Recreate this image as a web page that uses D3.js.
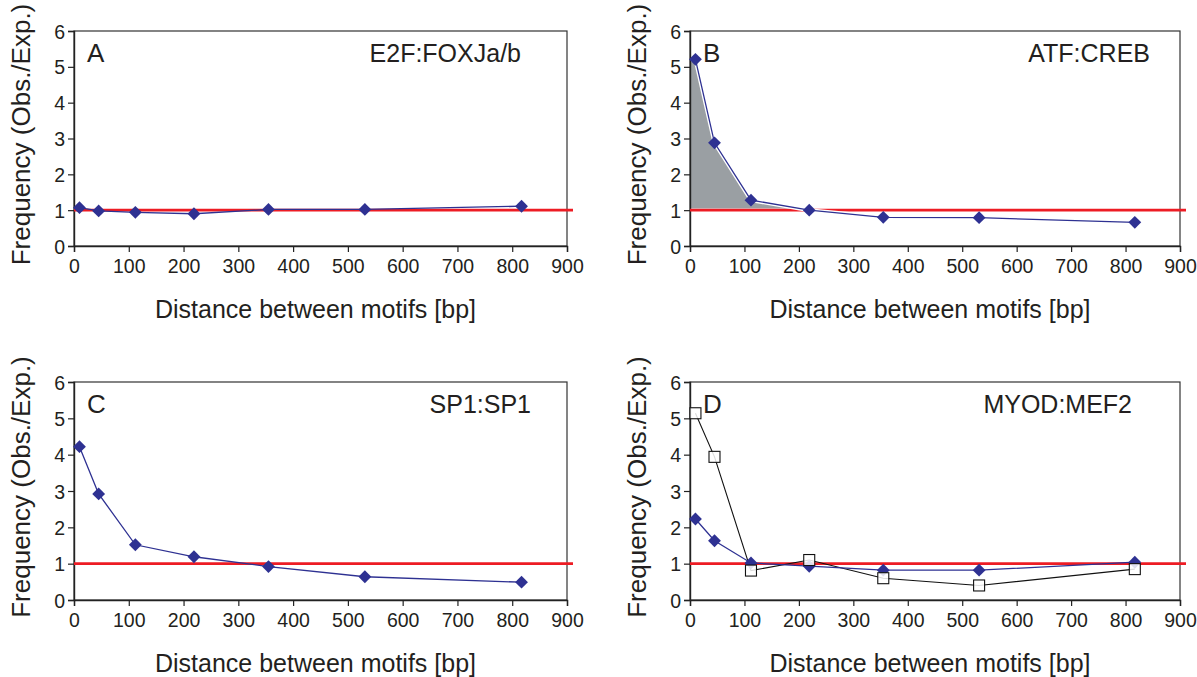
<!DOCTYPE html>
<html>
<head>
<meta charset="utf-8">
<script src="https://cdn.jsdelivr.net/npm/d3@7"></script>
<style>
  html, body { margin: 0; padding: 0; background: #fff; }
  svg { display: block; }
  text { font-family: "Liberation Sans", Arial, Helvetica, sans-serif; fill: #231f20; }
</style>
</head>
<body>
<svg id="chart" width="1197" height="677"></svg>
<script>
// values
const panelLetters = ['A', 'B', 'C', 'D'];
const pairNames = ['E2F:FOXJa/b', 'ATF:CREB', 'SP1:SP1', 'MYOD:MEF2'];
const distances = [10, 45, 112, 219, 355, 531, 817];
const freqA = [1.07, 0.98, 0.94, 0.90, 1.02, 1.02, 1.11];
const freqB = [5.21, 2.88, 1.28, 1.00, 0.80, 0.79, 0.66];
const freqC = [4.22, 2.92, 1.52, 1.19, 0.92, 0.64, 0.49];
const freqD = [2.23, 1.63, 1.02, 0.93, 0.82, 0.82, 1.04];
const freqDOpen = [5.14, 3.94, 0.81, 1.10, 0.60, 0.40, 0.85];
// grey shaded excess in panel B
const shadeDist = [0, 10, 45, 112, 219];
const shadeFreq = [5.12, 5.21, 2.88, 1.28, 1.00];
const shadeBase = 1.05;
const expected = 1;
const xDomain = [0, 900];
const yDomain = [0, 6];

const series = [freqA, freqB, freqC, freqD];

// panel boxes in pixels
const boxes = [
  { x0: 74, x1: 567, y0: 31, y1: 246, nameX: 521 },
  { x0: 690, x1: 1180, y0: 31, y1: 246, nameX: 1150 },
  { x0: 74, x1: 567, y0: 382, y1: 600, nameX: 531 },
  { x0: 690, x1: 1180, y0: 382, y1: 600, nameX: 1132 }
];

const navy = '#2e3192';
const red = '#ed1c24';
const svg = d3.select('#chart');

const diamond = d3.symbol().type(d3.symbolDiamond2).size(105);

boxes.forEach((b, i) => {
  const x = d3.scaleLinear().domain(xDomain).range([b.x0, b.x1]);
  const y = d3.scaleLinear().domain(yDomain).range([b.y1, b.y0]);
  const g = svg.append('g');

  // shading (panel B only)
  if (i === 1) {
    const area = d3.area()
      .x((d, k) => x(shadeDist[k]))
      .y0(y(shadeBase))
      .y1(d => y(d));
    g.append('path')
      .datum(shadeFreq)
      .attr('d', area)
      .attr('fill', '#9a9fa3');
  }

  // frame
  g.append('rect')
    .attr('x', b.x0).attr('y', b.y0)
    .attr('width', b.x1 - b.x0).attr('height', b.y1 - b.y0)
    .attr('fill', 'none').attr('stroke', '#333').attr('stroke-width', 1.2);

  // axes
  const xAxis = d3.axisBottom(x).tickValues(d3.range(0, 901, 100)).tickSize(6).tickPadding(7);
  const yAxis = d3.axisLeft(y).ticks(6).tickSize(6).tickPadding(3);

  const gx = g.append('g').attr('transform', `translate(0,${b.y1})`).call(xAxis);
  const gy = g.append('g').attr('transform', `translate(${b.x0},0)`).call(yAxis);
  [gx, gy].forEach(a => {
    a.select('.domain').attr('stroke', '#222').attr('stroke-width', 1.4);
    a.selectAll('.tick line').attr('stroke', '#222').attr('stroke-width', 1.2);
    a.selectAll('.tick text')
      .attr('font-size', 19.5)
      .attr('font-family', '"Liberation Sans", Arial, sans-serif')
      .attr('fill', '#231f20');
  });
  gy.selectAll('.tick text').attr('dy', '0.36em');

  // axis titles
  g.append('text')
    .attr('x', (b.x0 + b.x1) / 2 - 5)
    .attr('y', b.y1 + 72)
    .attr('text-anchor', 'middle')
    .attr('font-size', 25)
    .text('Distance between motifs [bp]');

  g.append('text')
    .attr('transform', `translate(${b.x0 - 44},${(b.y0 + b.y1) / 2 - 4}) rotate(-90)`)
    .attr('text-anchor', 'middle')
    .attr('font-size', 26)
    .text('Frequency (Obs./Exp.)');

  // panel letter and name
  g.append('text')
    .attr('x', b.x0 + 13)
    .attr('y', b.y0 + 31)
    .attr('font-size', 26)
    .text(panelLetters[i]);
  g.append('text')
    .attr('x', b.nameX)
    .attr('y', b.y0 + 31)
    .attr('text-anchor', 'end')
    .attr('font-size', 25)
    .text(pairNames[i]);

  // expected level
  g.append('line')
    .attr('x1', x(0)).attr('x2', b.x1 + 6)
    .attr('y1', y(expected)).attr('y2', y(expected))
    .attr('stroke', red).attr('stroke-width', 2.6);

  const line = d3.line().x((d, k) => x(distances[k])).y(d => y(d));

  // open squares series in panel D
  if (i === 3) {
    g.append('path')
      .datum(freqDOpen)
      .attr('d', line)
      .attr('fill', 'none').attr('stroke', '#111').attr('stroke-width', 1.1);
  }

  if (i === 1) {
    g.append('path')
      .datum(series[i])
      .attr('d', line)
      .attr('fill', 'none').attr('stroke', '#fff').attr('stroke-width', 4);
  }
  g.append('path')
    .datum(series[i])
    .attr('d', line)
    .attr('fill', 'none').attr('stroke', navy).attr('stroke-width', 1.3);

  g.selectAll('.dia')
    .data(series[i])
    .join('path')
    .attr('class', 'dia')
    .attr('transform', (d, k) => `translate(${x(distances[k])},${y(d)})`)
    .attr('d', diamond)
    .attr('fill', navy);

  if (i === 3) {
    g.selectAll('.sq')
      .data(freqDOpen)
      .join('rect')
      .attr('class', 'sq')
      .attr('x', (d, k) => x(distances[k]) - 5.5)
      .attr('y', d => y(d) - 5.5)
      .attr('width', 11).attr('height', 11)
      .attr('fill', '#fff').attr('fill-opacity', 0.85)
      .attr('stroke', '#111').attr('stroke-width', 1.1);
  }
});
</script>
</body>
</html>
